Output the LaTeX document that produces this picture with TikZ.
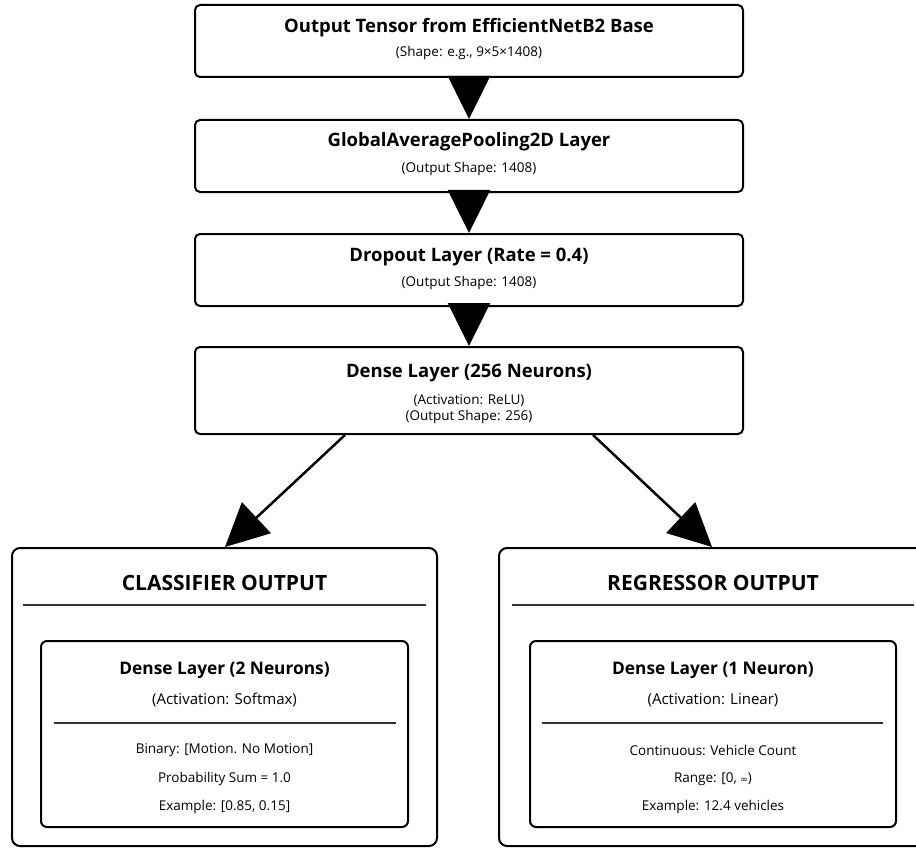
\documentclass[tikz,border=0pt]{standalone}
\usepackage{fontspec}
\setmainfont{Open Sans}
\newfontfamily\symfont{DejaVu Sans}
\usetikzlibrary{arrows.meta}
\begin{document}
\begin{tikzpicture}[x=1pt,y=-1pt,
  layerbox/.style={draw=black, line width=2pt, rounded corners=5pt, minimum width=548pt, inner sep=0pt, fill=white},
  outbox/.style={draw=black, line width=2pt, rounded corners=8pt, inner sep=0pt},
  innerbox/.style={draw=black, line width=2pt, rounded corners=6pt, inner sep=0pt},
  ttl/.style={font=\fontsize{18.5}{20}\selectfont\bfseries, inner sep=0pt},
  bigttl/.style={font=\fontsize{21}{24}\selectfont\bfseries, inner sep=0pt},
  inttl/.style={font=\fontsize{17.3}{20}\selectfont\bfseries, inner sep=0pt},
  sub/.style={font=\fontsize{13.5}{16}\selectfont, inner sep=0pt},
  act/.style={font=\fontsize{15}{18}\selectfont, inner sep=0pt},
  det/.style={font=\fontsize{13.5}{16}\selectfont, inner sep=0pt},
  divider/.style={draw=black!80, line width=1.5pt},
  arr/.style={line width=2.5pt, -{Triangle[length=43pt,width=42pt]}}
]
\useasboundingbox (0,0) rectangle (916,848);
\clip (0,0) rectangle (916,848);
\fill[white] (0,0) rectangle (916,848);

% main stack
\node[layerbox, minimum height=72pt] (b1) at (469,41) {};
\node[layerbox, minimum height=72pt] (b2) at (469,156) {};
\node[layerbox, minimum height=72pt] (b3) at (469,270) {};
\node[layerbox, minimum height=87pt] (b4) at (469,390.5) {};

\node[ttl] (t1) at (469,28) {Output Tensor from EfficientNetB2 Base};
\node[sub] (s1) at (469,53) {(Shape: e.g., 9×5×1408)};
\node[ttl] (t2) at (469,142) {GlobalAveragePooling2D Layer};
\node[sub] (s2) at (469,169) {(Output Shape: 1408)};
\node[ttl] (t3) at (469,257) {Dropout Layer (Rate = 0.4)};
\node[sub] (s3) at (469,283) {(Output Shape: 1408)};
\node[ttl] (t4) at (469,373) {Dense Layer (256 Neurons)};
\node[sub] (s4a) at (469,401) {(Activation: ReLU)};
\node[sub] (s4b) at (469,417) {(Output Shape: 256)};

% output heads
\node[outbox, minimum width=425pt, minimum height=298pt] (cls) at (224.5,697) {};
\node[outbox, minimum width=428pt, minimum height=298pt] (reg) at (713,697) {};

\node[bigttl] (clst) at (224.5,583) {CLASSIFIER OUTPUT};
\node[bigttl] (regt) at (713,583) {REGRESSOR OUTPUT};
\draw[divider] (23,605) -- (426,605);
\draw[divider] (512,605) -- (914,605);

\node[innerbox, minimum width=367pt, minimum height=186pt] (clsi) at (224.5,734) {};
\node[innerbox, minimum width=366pt, minimum height=186pt] (regi) at (713,734) {};

\node[inttl] (c1) at (224.5,670) {Dense Layer (2 Neurons)};
\node[act] (c2) at (224.5,700) {(Activation: Softmax)};
\draw[divider] (54,723) -- (396,723);
\node[det] (c3) at (224.5,750) {Binary: [Motion. No Motion]};
\node[det] (c4) at (224.5,779) {Probability Sum = 1.0};
\node[det] (c5) at (224.5,807) {Example: [0.85, 0.15]};

\node[inttl] (r1) at (713,670) {Dense Layer (1 Neuron)};
\node[act] (r2) at (713,700) {(Activation: Linear)};
\draw[divider] (542,723) -- (883,723);
\node[det] (r3) at (713,750) {Continuous: Vehicle Count};
\node[det] (r4) at (713,779) {Range: [0, {\symfont\fontsize{9}{10}\selectfont ∞})};
\node[det] (r5) at (713,807) {Example: 12.4 vehicles};

% connectors
\draw[arr] (b1.south) -- (b2.north);
\draw[arr] (b2.south) -- (b3.north);
\draw[arr] (b3.south) -- (b4.north);
\draw[arr] ([xshift=-124pt]b4.south) -- ([xshift=0.5pt]cls.north);
\draw[arr] ([xshift=124pt]b4.south) -- ([xshift=-1pt]reg.north);
\end{tikzpicture}
\end{document}
